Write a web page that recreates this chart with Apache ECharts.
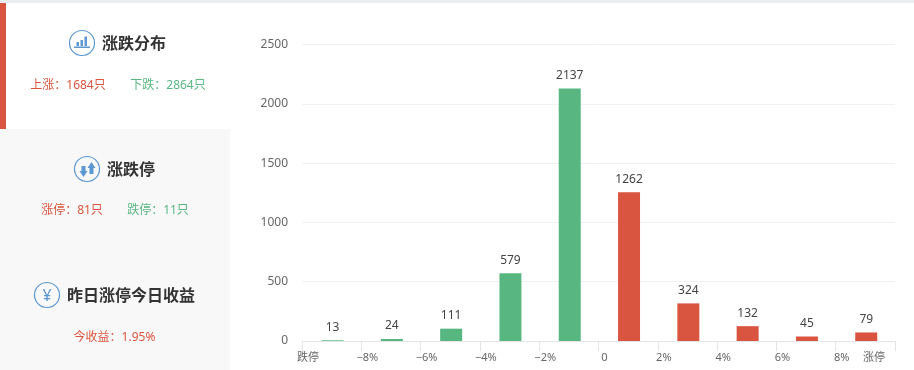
<!DOCTYPE html>
<html><head><meta charset="utf-8">
<style>html,body{margin:0;padding:0;background:#fff}#c{width:914px;height:370px}</style>
<script src="https://cdn.jsdelivr.net/npm/echarts@6/dist/echarts.min.js"></script>
</head><body><div id="c"></div>
<script>
var binCenters=[-9,-7,-5,-3,-1,1,3,5,7,9];
var counts=[13,24,111,579,2137,1262,324,132,45,79];
var tickValues=[-10,-8,-6,-4,-2,0,2,4,6,8,10];
var tickLabels=['跌停','−8%','−6%','−4%','−2%','0','2%','4%','6%','8%','涨停'];
var panelTitles=['涨跌分布','涨跌停','昨日涨停今日收益'];
var upDownText=['上涨：1684只','下跌：2864只'];
var limitText=['涨停：81只','跌停：11只'];
var yieldText=['今收益：1.95%'];
var RED='#d9553f',GREEN='#58b781',BLUE='#5b97d1',FONT='"Noto Sans","Noto Sans CJK SC",sans-serif';
function txt(x,y,s,size,color,weight){return {type:'text',x:x,y:y,style:{text:s,fontSize:size,fontFamily:FONT,fontWeight:weight||'normal',fill:color,align:'center',verticalAlign:'middle'},z:5};}
function ring(x,y){return {type:'circle',shape:{cx:x,cy:y,r:12.5},style:{fill:'none',stroke:BLUE,lineWidth:1.2},z:5};}
function rc(x,y,w,h,c){return {type:'rect',shape:{x:x,y:y,width:w,height:h},style:{fill:c},z:c===BLUE?6:1};}
var g=[
 rc(0,0,914,3,'#e9eef0'),rc(0,129,230,241,'#f8f8f8'),rc(0,3,6,126,RED),
 ring(82,43),rc(76.5,42,2.5,4,BLUE),rc(80.5,40,2.5,6,BLUE),rc(84.5,36.5,2.5,9.5,BLUE),rc(74,46.5,16,1.5,BLUE),
 txt(134,44,panelTitles[0],16,'#333','bold'),
 txt(68,86,upDownText[0],12,RED),txt(168,86,upDownText[1],12,GREEN),
 ring(87,169),
 {type:'polygon',shape:{points:[[79.5,171],[87.5,171],[83.5,177]]},style:{fill:BLUE},z:6},rc(81.5,166,4,5,BLUE),
 {type:'polygon',shape:{points:[[87.5,168],[95.5,168],[91.5,162]]},style:{fill:BLUE},z:6},rc(89.5,168,4,6,BLUE),
 txt(131,170,panelTitles[1],16,'#333','bold'),
 txt(72,211,limitText[0],12,RED),txt(158,211,limitText[1],12,GREEN),
 ring(47,295),txt(47,296,'¥',16,BLUE),
 txt(131,296,panelTitles[2],16,'#333','bold'),
 txt(114.5,338,yieldText[0],12,RED)
];
var seriesData=binCenters.map(function(x,i){return {value:[x,counts[i]],itemStyle:{color:x<0?GREEN:RED}};});
var chart=echarts.init(document.getElementById('c'),null,{renderer:'canvas'});
chart.setOption({
 animation:false,
 textStyle:{fontFamily:FONT},
 grid:{left:302,right:19,top:44.5,bottom:29,containLabel:false},
 graphic:g,
 xAxis:[{type:'value',min:-10,max:10,interval:2,splitLine:{show:false},
  axisLine:{show:true,onZero:false,lineStyle:{color:'#e3e5e8',width:1}},
  axisTick:{show:true,length:10,lineStyle:{color:'#e3e5e8'}},
  axisLabel:{margin:11,hideOverlap:false,showMinLabel:true,showMaxLabel:true,
   formatter:function(v){var s=tickLabels[tickValues.indexOf(v)];return (v===10?'{hi|':'{n|')+s+'}';},
   rich:{n:{fontSize:11,color:'#666',fontFamily:FONT,padding:[0,0,0,12]},hi:{fontSize:11,color:'#666',fontFamily:FONT,padding:[0,42,0,0]}}}},
  {type:'value',show:false,min:-10.03,max:9.97}],
 yAxis:[{type:'value',min:0,max:2500,interval:500,
  axisLine:{show:false},axisTick:{show:false},
  axisLabel:{margin:14,fontSize:12,color:'#666',fontFamily:FONT,padding:[5,0,0,0],formatter:function(v){return String(v);}},
  splitLine:{lineStyle:{color:'#f0f1f2',width:1}}},
  {type:'value',show:false,min:7,max:2507}],
 series:[{type:'bar',xAxisIndex:1,yAxisIndex:1,barWidth:22,data:seriesData,clip:true,
  label:{show:true,position:'top',distance:7,fontSize:12,color:'#444',fontFamily:FONT,
   formatter:function(p){return p.value[1];}}}]
});
</script></body></html>
